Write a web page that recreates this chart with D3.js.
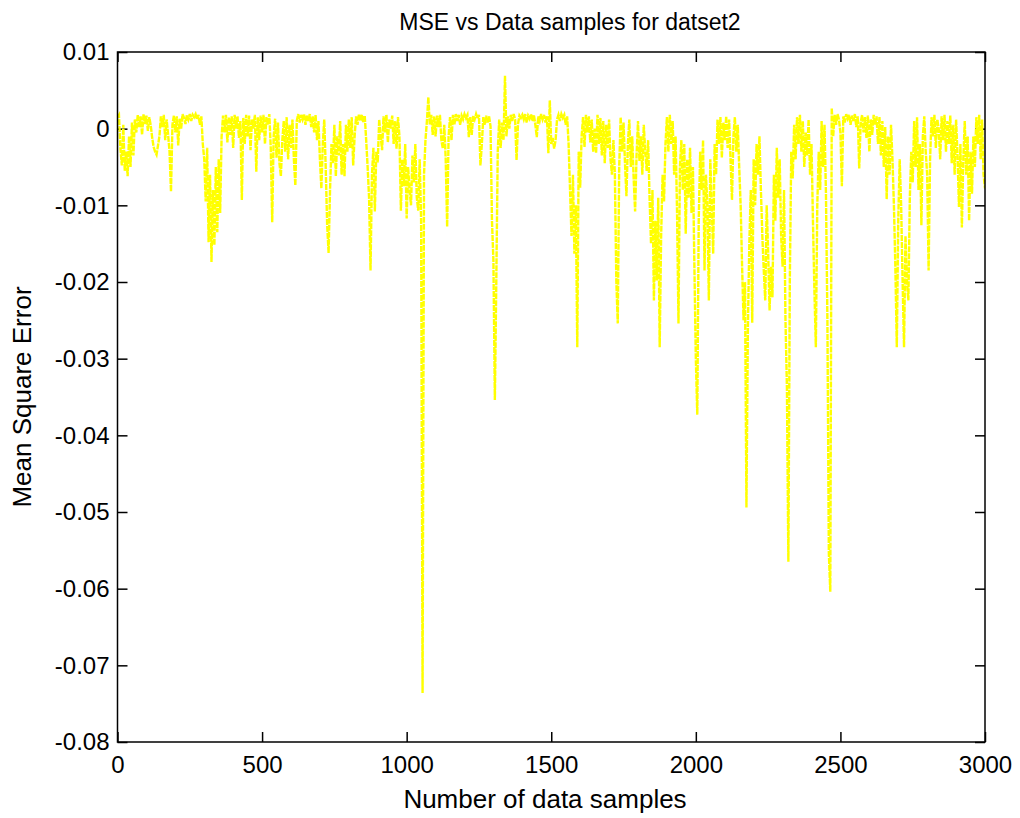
<!DOCTYPE html>
<html>
<head>
<meta charset="utf-8">
<style>
    body {
        margin: 0;
        background: #fff;
    }

    text {
        font-family: "Liberation Sans", Arial, sans-serif;
        fill: #000;
    }
</style>
<script src="https://d3js.org/d3.v7.min.js"></script>
</head>
<body>
<svg id="chart" width="1020" height="818"></svg>

<script>
    // one value every 5 samples, in units of 1e-3
    const sampleStep = 5;
    const mseMilli = [
        1.5, 1.8, -2.5, -4.8, 0.5, -5.5, -3.0, -6.2, -1.0, -5.0, 0.8, -3.5, 1.2, -0.5, 1.8, 0.2, 1.6, -0.8, 1.9, 0.6,
        1.7, -0.3, 1.5, 0.4, -1.2, -2.4, -3.0, -3.4, -2.2, -1.0, 1.6, 0.2, 1.8, -1.5, 1.2, -0.8, -3.0, -8.2, 0.5, 1.7,
        -0.5, 1.6, -2.2, 1.3, 0.0, 1.9, 1.4, 0.6, 1.8, 1.2, 1.9, 1.0, 1.8, 1.5, 1.9, 1.2, 1.8, 0.5, 1.6, -2.0,
        -4.0, -9.5, -2.5, -14.8, -6.0, -17.4, -8.0, -15.2, -5.0, -13.5, -4.0, -11.0, -1.0, 1.7, -0.5, 1.8, -1.8, 1.5, -0.8, 1.6,
        -2.5, 1.8, 0.0, 1.6, -1.2, 1.0, -9.3, 1.4, -2.0, 1.8, -1.0, 1.7, -2.8, 1.2, 0.0, 1.8, -5.6, 1.5, -1.5, 1.7,
        -0.5, 1.8, -2.0, 1.5, 0.5, 1.9, -2.5, -12.2, -1.0, 1.3, -3.8, 0.8, -4.5, -6.2, -1.5, 1.0, -3.0, 1.5, -4.0, 0.5,
        -2.5, 1.2, -4.0, -7.4, 1.0, 1.9, 0.8, 1.8, 1.2, 1.9, 0.5, 1.7, 1.0, 1.9, 0.2, 1.6, -0.5, 1.8, -1.5, 1.0,
        -4.0, -7.8, -2.0, 1.2, -5.0, -12.5, -16.2, -8.0, -2.0, -4.5, 0.5, -6.2, -1.0, -3.5, 1.0, -6.0, -2.0, -6.2, 0.5, -3.0,
        1.2, -2.5, 1.5, -4.8, -1.0, 1.6, 0.5, 1.9, 1.0, 1.8, 0.8, 1.7, -1.5, -5.0, -9.0, -18.5, -6.0, -2.5, -10.8, -3.0,
        -4.4, 1.2, -1.0, -2.8, 1.6, -0.5, 1.8, -1.8, 1.2, 0.0, 1.7, -2.0, 1.0, -2.6, 1.5, -1.0, -10.7, -4.0, -7.5, -2.0,
        -11.7, -5.0, -8.0, -10.0, -3.5, -7.0, -2.0, -9.0, -10.7, -4.0, -12.0, -73.6, -6.0, -1.5, 1.0, 4.1, 0.5, 1.8, -0.8, 1.6,
        -1.0, 1.7, 0.2, 1.8, -1.5, -2.6, 0.5, -4.0, -12.8, -1.0, 1.5, -1.5, 1.8, 0.5, 1.9, 1.0, 1.8, 0.5, 1.7, 1.2,
        1.9, 1.4, 1.8, -1.1, 1.5, -0.8, 1.7, 1.2, 1.9, 1.3, 1.8, -4.8, -2.0, 1.5, 0.5, 1.7, 0.8, 1.6, 0.3, -12.0,
        -17.2, -35.4, -19.8, -3.0, 1.2, -2.5, 0.8, -1.5, 6.9, -1.0, 1.6, 0.0, 1.8, 1.0, 1.9, 1.2, -4.1, 0.6, 1.7, 1.4,
        1.8, 1.2, 1.9, 0.8, 1.7, 1.3, 1.9, 1.0, 1.8, 0.5, -1.1, 1.6, 1.0, 1.9, 1.2, 1.8, 0.8, 1.6, -3.2, 3.7,
        -2.0, -1.2, -2.6, -1.5, 1.2, 1.8, 1.0, 1.9, 1.4, 1.8, 0.5, 1.6, -2.0, -8.0, -14.0, -6.0, -16.3, -10.0, -28.5, -3.0,
        -7.7, -1.0, 1.5, -2.4, 1.8, -0.5, 1.6, -1.8, 1.2, -3.0, 0.0, -3.2, 1.8, -2.0, 1.4, -3.5, 1.0, -4.5, 0.5, -2.5,
        1.2, -4.0, -6.0, -1.5, -6.0, -19.8, -25.4, -5.0, 1.5, -3.0, 0.8, -4.5, -8.8, -2.0, 1.2, -5.0, -1.0, -6.5, -10.8, -3.5,
        1.0, -4.2, -1.0, -6.0, 0.5, -3.0, -5.5, -1.5, -9.0, -15.0, -8.0, -22.4, -12.0, -19.8, -9.0, -28.5, -14.0, -6.0, -9.5, -2.0,
        1.5, -3.0, 1.8, -2.0, 1.0, -6.0, -1.0, -10.8, -25.4, -5.0, -1.5, -8.0, -2.0, -13.7, -4.0, -9.0, -2.5, -11.0, -5.0, -18.0,
        -30.0, -37.3, -12.0, -3.0, -8.0, -1.5, -18.5, -6.0, -10.0, -22.4, -4.0, -10.0, -16.3, -2.0, -6.0, 1.2, -2.0, 1.5, -3.8, 0.8,
        -1.5, 1.6, -2.5, 1.2, -4.0, -9.3, -1.0, 1.5, -3.0, 0.5, -5.0, -10.0, -18.0, -25.0, -20.0, -49.4, -25.9, -15.0, -8.0, -25.3,
        -4.0, -10.0, -2.0, -6.0, -1.0, -8.0, -14.0, -18.5, -22.4, -10.0, -16.0, -23.7, -18.0, -22.0, -6.0, -12.0, -2.5, -9.0, -4.0, -14.0,
        -18.0, -8.0, -25.0, -33.7, -56.5, -20.0, -3.0, -6.5, 0.5, -4.0, 1.5, -2.0, 1.8, -3.0, 1.0, -5.0, -0.5, -3.5, 1.2, -6.0,
        -2.0, -12.0, -21.0, -28.5, -10.0, -3.0, -8.0, 1.0, -5.0, 0.5, -8.5, -25.0, -55.4, -60.4, 2.7, -1.0, 1.8, 0.5, 1.9, 1.2,
        -0.5, -7.5, 1.6, 0.8, 1.9, 1.3, 1.8, 0.5, 1.7, 1.0, 1.9, 0.2, 1.6, -5.2, 0.8, 1.8, -0.5, 1.5, -1.2, 1.7,
        -3.0, 1.2, -0.8, 1.8, 0.5, 1.6, -2.0, 1.5, -3.5, 1.0, -5.0, 0.2, -9.2, -1.0, -6.0, 0.5, -4.0, -10.0, -18.0, -28.5,
        -12.0, -4.0, -10.0, -19.8, -28.5, -14.0, -20.0, -22.4, -9.0, -3.0, -7.0, 1.0, -5.0, 1.5, -8.0, -2.0, -12.6, -1.0, 1.6, -3.0,
        -6.0, -18.5, -4.1, 1.5, -1.0, 1.8, -2.5, 1.2, 0.0, -4.0, 1.6, -1.5, 1.8, -3.0, 1.0, -2.0, 1.7, -4.5, 0.5, -6.0,
        1.2, -3.5, -10.2, -2.0, -12.9, -4.0, 1.0, -6.0, -1.0, -12.0, -3.0, -8.5, -1.0, -5.0, 1.5, -2.0, 1.8, -4.0, 1.2, -6.0,
        -7.8
    ];

    const xTicks = [0, 500, 1000, 1500, 2000, 2500, 3000];
    const yTicks = [-0.08, -0.07, -0.06, -0.05, -0.04, -0.03, -0.02, -0.01, 0, 0.01];
    const yTickLabels = ["-0.08", "-0.07", "-0.06", "-0.05", "-0.04", "-0.03", "-0.02", "-0.01", "0", "0.01"];

    const data = mseMilli.map(function(v, i) {
        return {
            n: i * sampleStep,
            mse: v / 1000
        };
    });

    // plot box
    const margin = {
            top: 52,
            right: 35,
            bottom: 76,
            left: 117.5
        },
        width = 1020 - margin.left - margin.right,
        height = 818 - margin.top - margin.bottom;

    const svg = d3.select("#chart");
    const g = svg.append("g")
        .attr("transform", "translate(" + margin.left + "," + margin.top + ")");

    const x = d3.scaleLinear().domain([0, 3000]).range([0, width]);
    const y = d3.scaleLinear().domain([-0.08, 0.01]).range([height, 0]);

    // inward ticks on all four sides, like the original
    function styleAxis(sel) {
        sel.select(".domain").remove();
        sel.selectAll(".tick line").attr("stroke", "#000").attr("stroke-width", 1.5);
        sel.selectAll(".tick text").attr("font-size", 24);
    }

    g.append("g")
        .attr("transform", "translate(0," + height + ")")
        .call(d3.axisBottom(x).tickValues(xTicks).tickSize(-10).tickPadding(14).tickFormat(d3.format("d")))
        .call(styleAxis);

    g.append("g")
        .call(d3.axisTop(x).tickValues(xTicks).tickSize(-10).tickFormat(""))
        .call(styleAxis);

    g.append("g")
        .call(d3.axisLeft(y).tickValues(yTicks).tickSize(-10).tickPadding(8)
            .tickFormat(function(d, i) { return yTickLabels[i]; }))
        .call(styleAxis);

    g.append("g")
        .attr("transform", "translate(" + width + ",0)")
        .call(d3.axisRight(y).tickValues(yTicks).tickSize(-10).tickFormat(""))
        .call(styleAxis);

    // the series
    g.append("clipPath").attr("id", "plotClip")
        .append("rect").attr("width", width).attr("height", height);

    g.append("path")
        .datum(data)
        .attr("clip-path", "url(#plotClip)")
        .attr("fill", "none")
        .attr("stroke", "#ffff00")
        .attr("stroke-width", 2.4)
        .attr("stroke-dasharray", "6,1")
        .attr("d", d3.line()
            .x(function(d) { return x(d.n); })
            .y(function(d) { return y(d.mse); }));

    // box
    g.append("rect")
        .attr("width", width)
        .attr("height", height)
        .attr("fill", "none")
        .attr("stroke", "#000")
        .attr("stroke-width", 1.5);

    // title and labels
    svg.append("text")
        .attr("x", 570)
        .attr("y", 30)
        .attr("text-anchor", "middle")
        .attr("font-size", 23)
        .text("MSE vs Data samples for datset2");

    svg.append("text")
        .attr("x", 545)
        .attr("y", 808)
        .attr("text-anchor", "middle")
        .attr("font-size", 26)
        .text("Number of data samples");

    svg.append("text")
        .attr("transform", "translate(31," + (margin.top + height / 2) + ") rotate(-90)")
        .attr("text-anchor", "middle")
        .attr("font-size", 26)
        .text("Mean Square Error");
</script>
</body>
</html>
